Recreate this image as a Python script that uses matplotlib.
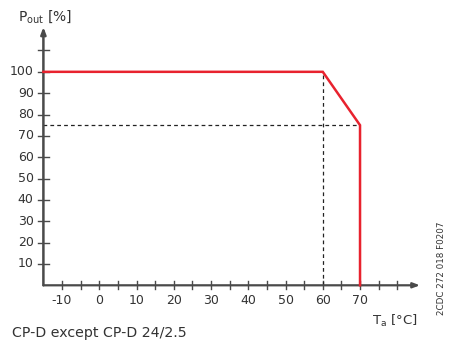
import matplotlib
matplotlib.use("Agg")
import matplotlib.pyplot as plt

plt.rcParams['font.family'] = ['DejaVu Sans']
plt.rcParams['mathtext.fontset'] = 'dejavusans'

# Derating curve: output power vs ambient temperature
temp_c = [-15, 60, 70, 70]
power_pct = [100, 100, 75, 0]

# Guide lines
knee_temp = 60
end_temp = 70
end_power = 75

x_ticks = list(range(-10, 85, 5))
x_labels = [-10, 0, 10, 20, 30, 40, 50, 60, 70]
y_ticks = list(range(10, 120, 10))
y_labels = [10, 20, 30, 40, 50, 60, 70, 80, 90, 100]

axis_col = '#4a4a4a'
text_col = '#333333'
red = '#e8222e'
fs = 9

fig = plt.figure(figsize=(4.49, 3.45), dpi=100)
ax = fig.add_axes([43.4 / 449, (345 - 285.3) / 345, (420 - 43.4) / 449, (285.3 - 27) / 345])
xmin, xmax = -15, 86.1
ymin, ymax = 0, 121
ax.set_xlim(xmin, xmax)
ax.set_ylim(ymin, ymax)

for s in ax.spines.values():
    s.set_visible(False)

# Axes with arrowheads
ax.annotate('', xy=(xmax, 0), xytext=(xmin, 0), xycoords='data',
            arrowprops=dict(arrowstyle='-|>,head_length=0.4,head_width=0.15',
                            color=axis_col, lw=1.6, shrinkA=0, shrinkB=0),
            annotation_clip=False)
ax.annotate('', xy=(xmin, ymax), xytext=(xmin, 0), xycoords='data',
            arrowprops=dict(arrowstyle='-|>,head_length=0.4,head_width=0.15',
                            color=axis_col, lw=1.8, shrinkA=0, shrinkB=0),
            annotation_clip=False)

# Ticks (cross the axis lines)
for t in x_ticks:
    ax.plot([t, t], [-1.9, 1.9], color=axis_col, lw=1.0, clip_on=False)
    if t in x_labels:
        ax.text(t, -7.3, f'{t}', ha='center', va='center', fontsize=fs, color=text_col)
for t in y_ticks:
    ax.plot([xmin - 1.5, xmin + 1.5], [t, t], color=axis_col, lw=1.0, clip_on=False)
    if t in y_labels:
        ax.text(xmin - 2.6, t, f'{t}', ha='right', va='center', fontsize=fs, color=text_col)
ax.set_xticks([])
ax.set_yticks([])

# Dashed guide lines
ax.plot([knee_temp, knee_temp], [0, 100], ls=(0, (3, 2.5)), color='#222222', lw=0.9)
ax.plot([xmin, end_temp], [end_power, end_power], ls=(0, (3, 2.5)), color='#222222', lw=0.9)

# Derating curve
ax.plot(temp_c, power_pct, color=red, lw=1.8, solid_joinstyle='miter', clip_on=False, zorder=5)

# Labels
fig.text(18 / 449, 1 - 17 / 345, r'P$_{\mathregular{out}}$ [%]', fontsize=10, color=text_col,
         ha='left', va='center')
fig.text(418 / 449, 1 - 321 / 345, r'T$_{\mathregular{a}}$ [°C]', fontsize=9.5, color=text_col,
         ha='right', va='center')
fig.text(12 / 449, 1 - 333 / 345, 'CP-D except CP-D 24/2.5', fontsize=10.2, color=text_col,
         ha='left', va='center')
fig.text(441 / 449, 1 - 268 / 345, '2CDC 272 018 F0207', fontsize=6.3, color=text_col,
         rotation=90, ha='center', va='center')

fig.savefig('out.png', dpi=100)
